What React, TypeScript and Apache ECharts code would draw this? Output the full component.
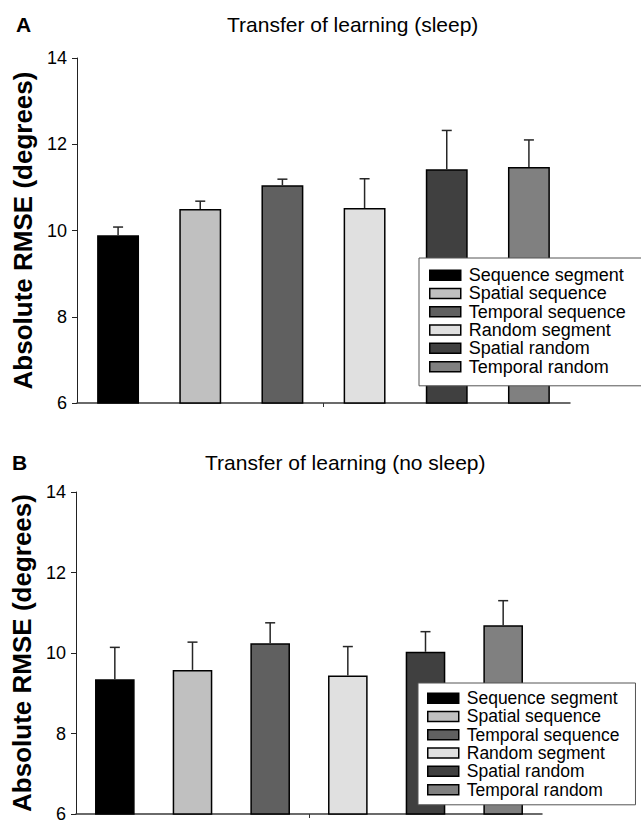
import React, { useEffect, useRef } from "react";
import * as echarts from "echarts";

const categories = [
  "Sequence segment",
  "Spatial sequence",
  "Temporal sequence",
  "Random segment",
  "Spatial random",
  "Temporal random",
];
const barColors = ["#000000", "#c0c0c0", "#606060", "#e0e0e0", "#404040", "#808080"];
const sleepMeans = [9.89, 10.5, 11.05, 10.52, 11.42, 11.47];
const sleepErrTop = [10.08, 10.68, 11.19, 11.2, 12.32, 12.1];
const noSleepMeans = [9.35, 9.58, 10.24, 9.44, 10.03, 10.69];
const noSleepErrTop = [10.14, 10.27, 10.75, 10.16, 10.53, 11.3];
const yTicks = { min: 6, max: 14, interval: 2 };

const FONT = "'Liberation Sans', Arial, sans-serif";

function buildSeries(means: number[], errTop: number[], gridIdx: number) {
  const bars = categories.map((name, i) => ({
    name,
    type: "bar",
    xAxisIndex: gridIdx * 2,
    yAxisIndex: gridIdx,
    barWidth: "51%",
    barGap: "-100%",
    itemStyle: { color: barColors[i], borderColor: "#000", borderWidth: 1.5 },
    data: categories.map((_, j) => (j === i ? means[i] : "-")),
  }));
  const err = {
    type: "custom",
    xAxisIndex: gridIdx * 2,
    yAxisIndex: gridIdx,
    z: 3,
    data: means.map((m, i) => [i, m, errTop[i]]),
    renderItem: (params: any, api: any) => {
      const x = api.value(0);
      const p1 = api.coord([x, api.value(1)]);
      const p2 = api.coord([x, api.value(2)]);
      const st = { stroke: "#262626", lineWidth: 1.5 };
      return {
        type: "group",
        children: [
          { type: "line", shape: { x1: p1[0], y1: p1[1], x2: p2[0], y2: p2[1] }, style: st },
          { type: "line", shape: { x1: p2[0] - 5, y1: p2[1], x2: p2[0] + 5, y2: p2[1] }, style: st },
        ],
      };
    },
  };
  return [...bars, err];
}

function xAxes(gridIdx: number) {
  return [
    {
      type: "category",
      gridIndex: gridIdx,
      data: categories,
      axisLine: { lineStyle: { color: "#3a3a3a", width: 1.5 } },
      axisTick: { show: false },
      axisLabel: { show: false },
    },
    {
      type: "value",
      gridIndex: gridIdx,
      min: 0,
      max: 6,
      position: "bottom",
      axisLine: { show: false },
      splitLine: { show: false },
      axisLabel: { show: false },
      axisTick: { show: true, length: 4, customValues: [3], lineStyle: { color: "#333", width: 1 } },
    },
  ];
}

function yAxis(gridIdx: number) {
  return {
    type: "value",
    gridIndex: gridIdx,
    min: yTicks.min,
    max: yTicks.max,
    interval: yTicks.interval,
    name: "Absolute RMSE (degrees)",
    nameLocation: "middle",
    nameGap: 36,
    nameTextStyle: { fontSize: 26, fontWeight: "bold", color: "#000", fontFamily: FONT },
    axisLine: { show: true, lineStyle: { color: "#222", width: 1 } },
    axisTick: { show: true, length: 5, lineStyle: { color: "#222" } },
    axisLabel: { fontSize: 18, color: "#000", margin: 10, fontFamily: FONT },
    splitLine: { show: false },
  };
}

function legend(left: number, top: number, padding: number[], fontSize: number, lineHeight: number) {
  return {
    orient: "vertical",
    left,
    top,
    padding,
    itemGap: 0,
    itemWidth: 31,
    itemHeight: 10,
    icon: "rect",
    backgroundColor: "#fff",
    borderColor: "#555",
    borderWidth: 1,
    borderRadius: 0,
    selectedMode: false,
    data: categories,
    itemStyle: { borderColor: "#000", borderWidth: 1.5 },
    textStyle: { fontSize, color: "#000", fontFamily: FONT, lineHeight, padding: [0, 0, 0, 3] },
  };
}

export default function App() {
  const ref = useRef<HTMLDivElement>(null);
  useEffect(() => {
    document.body.style.margin = "0";
    const chart = echarts.init(ref.current!, null, { renderer: "svg" });
    chart.setOption({
      animation: false,
      textStyle: { fontFamily: FONT },
      title: [
        { text: "A", left: 16, top: 14, padding: 0, textStyle: { fontSize: 21, fontWeight: "bold", color: "#000", fontFamily: FONT } },
        { text: "Transfer of learning (sleep)", left: 227, top: 14, padding: 0, textStyle: { fontSize: 21, fontWeight: "normal", color: "#000", fontFamily: FONT } },
        { text: "B", left: 12, top: 452, padding: 0, textStyle: { fontSize: 21, fontWeight: "bold", color: "#000", fontFamily: FONT } },
        { text: "Transfer of learning (no sleep)", left: 205, top: 452, padding: 0, textStyle: { fontSize: 21, fontWeight: "normal", color: "#000", fontFamily: FONT } },
      ],
      grid: [
        { left: 77, right: 71, top: 58, height: 345 },
        { left: 76, right: 99, top: 492, height: 326 },
      ],
      xAxis: [...xAxes(0), ...xAxes(1)],
      yAxis: [yAxis(0), yAxis(1)],
      legend: [
        legend(419, 258, [8, 16, 10, 10], 18, 18.3),
        legend(418, 683, [6, 16, 6, 9], 17.5, 18.3),
      ],
      series: [...buildSeries(sleepMeans, sleepErrTop, 0), ...buildSeries(noSleepMeans, noSleepErrTop, 1)],
    });
    return () => chart.dispose();
  }, []);
  return <div ref={ref} style={{ width: 641, height: 823 }} />;
}
